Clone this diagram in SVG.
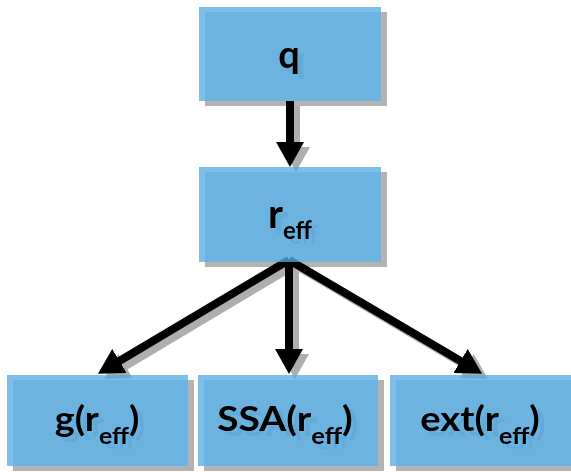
<svg xmlns="http://www.w3.org/2000/svg" width="571" height="472" viewBox="0 0 571 472">
  <defs>
    <style>
      .box { fill: rgb(82,170,225); fill-opacity: 0.75; }
      .lbl { font-family: Lato, "Open Sans", "Liberation Sans", sans-serif; font-weight: bold; fill: #000; text-anchor: middle; }
      .edge { stroke: #000; stroke-width: 8; fill: none; }
      .node { filter: url(#drop); }
    </style>
    <!-- offset shadow under each node; the opaque label casts a slightly darker shadow than the translucent box -->
    <filter id="drop" filterUnits="userSpaceOnUse" x="0" y="0" width="571" height="472">
      <feOffset in="SourceAlpha" dx="6" dy="5" result="off"/>
      <feComponentTransfer in="off" result="sh">
        <feFuncA type="table" tableValues="0 0.1 0.2 0.3 0.5"/>
      </feComponentTransfer>
      <feMerge>
        <feMergeNode in="sh"/>
        <feMergeNode in="SourceGraphic"/>
      </feMerge>
    </filter>
    <filter id="dropEdge" filterUnits="userSpaceOnUse" x="0" y="0" width="571" height="472">
      <feOffset in="SourceAlpha" dx="6" dy="5" result="off"/>
      <feComponentTransfer in="off" result="sh">
        <feFuncA type="linear" slope="0.32"/>
      </feComponentTransfer>
      <feMerge>
        <feMergeNode in="sh"/>
        <feMergeNode in="SourceGraphic"/>
      </feMerge>
    </filter>
    <marker id="head" markerUnits="userSpaceOnUse" markerWidth="27" markerHeight="28" refX="4" refY="14" orient="auto" viewBox="0 0 27 28">
      <path d="M0,0 L25,14 L0,28 z" fill="#000"/>
    </marker>
  </defs>

  <!-- connectors -->
  <g id="connectors" filter="url(#dropEdge)">
    <line class="edge" x1="290" y1="101" x2="290" y2="146" marker-end="url(#head)"/>
    <line class="edge" x1="289" y1="260" x2="116" y2="363" marker-end="url(#head)"/>
    <line class="edge" x1="289" y1="260" x2="289" y2="353" marker-end="url(#head)"/>
    <line class="edge" x1="289" y1="260" x2="464" y2="363" marker-end="url(#head)"/>
  </g>

  <g id="node-q" class="node">
    <rect class="box" x="199" y="7" width="182" height="94"/>
    <text class="lbl" x="289" y="68" font-size="38">q</text>
  </g>

  <g id="node-reff" class="node">
    <rect class="box" x="199" y="167" width="182" height="95"/>
    <text class="lbl" x="290" y="228" font-size="40">r<tspan font-size="24" dy="11">eff</tspan></text>
  </g>

  <g id="node-g" class="node">
    <rect class="box" x="7" y="375" width="181" height="91"/>
    <text class="lbl" transform="translate(97,431) scale(1.08,1)" font-size="35">g(r<tspan font-size="23" dy="13">eff</tspan><tspan dy="-13">)</tspan></text>
  </g>

  <g id="node-ssa" class="node">
    <rect class="box" x="198" y="375" width="180" height="91"/>
    <text class="lbl" transform="translate(285,431) scale(1.11,1)" font-size="35">SSA(r<tspan font-size="23" dy="13">eff</tspan><tspan dy="-13">)</tspan></text>
  </g>

  <g id="node-ext" class="node">
    <rect class="box" x="390" y="375" width="181" height="91"/>
    <text class="lbl" transform="translate(480,431) scale(1.09,1)" font-size="35">ext(r<tspan font-size="23" dy="13">eff</tspan><tspan dy="-13">)</tspan></text>
  </g>
</svg>
